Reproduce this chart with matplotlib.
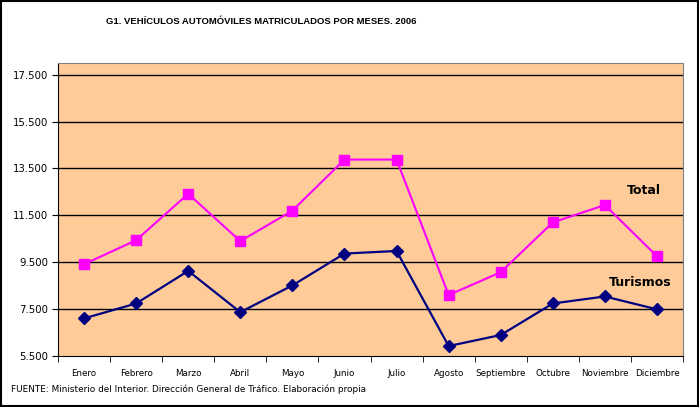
import matplotlib.pyplot as plt
from matplotlib.ticker import FuncFormatter, FixedLocator
from matplotlib.patches import Rectangle

meses = ['Enero', 'Febrero', 'Marzo', 'Abril', 'Mayo', 'Junio', 'Julio',
         'Agosto', 'Septiembre', 'Octubre', 'Noviembre', 'Diciembre']
total = [9415, 10440, 12420, 10400, 11700, 13880, 13880,
         8100, 9075, 11200, 11940, 9755]
turismos = [7105, 7740, 9130, 7370, 8510, 9870, 9980,
            5925, 6395, 7740, 8040, 7490]

fig = plt.figure(figsize=(6.99, 4.07), dpi=100)
fig.patch.set_facecolor('white')
ax = fig.add_axes([58/699, 1 - 356/407, (683-58)/699, (356-63)/407])
ax.set_facecolor('#FFCC99')

x = range(len(meses))
ax.plot(x, total, color='#FF00FF', lw=1.5, marker='s', ms=7, mec='#FF00FF', zorder=3)
ax.plot(x, turismos, color='#000080', lw=1.6, marker='D', ms=6.5, mec='#000080', zorder=3)

ax.set_xlim(-0.5, len(meses) - 0.5)
ax.set_ylim(5500, 18000)
yt = list(range(5500, 18000, 2000))
ax.yaxis.set_major_locator(FixedLocator(yt))
ax.yaxis.set_major_formatter(FuncFormatter(lambda v, p: f'{int(v):,}'.replace(',', '.')))
for v in yt[1:]:
    ax.axhline(v, color='black', lw=1, zorder=1)

ax.set_xticks(list(x))
ax.set_xticklabels(meses, fontsize=6.3)
ax.set_xticks([i - 0.5 for i in range(len(meses) + 1)], minor=True)
ax.tick_params(axis='x', which='major', length=0, pad=9)
ax.tick_params(axis='x', which='minor', length=4, direction='out', color='black')
ax.tick_params(axis='y', length=4, direction='out', labelsize=7.3, pad=3)

for s in ['top', 'right']:
    ax.spines[s].set_color('#808080')
for s in ['left', 'bottom']:
    ax.spines[s].set_color('black')

ax.text(10.42, 12560, 'Total', fontsize=9, fontweight='bold', ha='left', va='center')
ax.text(10.08, 8650, 'Turismos', fontsize=9, fontweight='bold', ha='left', va='center')

fig.text(261/699, 1 - 22/407, 'G1. VEHÍCULOS AUTOMÓVILES MATRICULADOS POR MESES. 2006',
         fontsize=6.8, fontweight='bold', ha='center', va='center',
         family='Liberation Sans')
fig.text(11/699, 1 - 389/407,
         'FUENTE: Ministerio del Interior. Dirección General de Tráfico. Elaboración propia',
         fontsize=6.4, ha='left', va='center')

fig.patches.append(Rectangle((0.001, 0.002), 0.997, 0.996, transform=fig.transFigure,
                             fill=False, edgecolor='black', lw=1.5))

fig.savefig('out.png', dpi=100)
